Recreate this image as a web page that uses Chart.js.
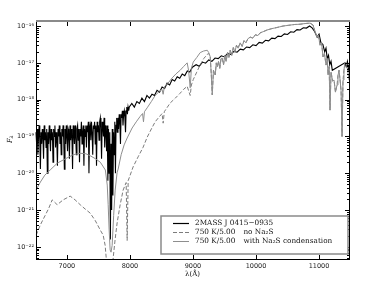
<!DOCTYPE html>
<html><head><meta charset="utf-8">
<script src="https://cdn.jsdelivr.net/npm/chart.js@4.4.1/dist/chart.umd.min.js"></script>
<style>html,body{margin:0;padding:0;background:#fff;overflow:hidden}canvas{display:block}</style>
</head><body>
<canvas id="c" width="378" height="281"></canvas>
<script>
// ---------- data (wavelength in Angstrom, flux F_lambda) ----------
const obsWave = [6510,6520,6530,6540,6550,6560,6570,6580,6590,6600,6610,6620,6630,6640,6650,6660,6670,6680,6690,6700,6710,6720,6730,6740,6750,6760,6770,6780,6790,6800,6810,6820,6830,6840,6850,6860,6870,6880,6890,6900,6910,6920,6930,6940,6950,6960,6970,6980,6990,7000,7010,7020,7030,7040,7050,7060,7070,7080,7090,7100,7110,7120,7130,7140,7150,7160,7170,7180,7190,7200,7210,7220,7230,7240,7250,7260,7270,7280,7290,7300,7310,7320,7330,7340,7350,7360,7370,7380,7390,7400,7410,7420,7430,7440,7450,7460,7470,7480,7490,7500,7510,7520,7530,7540,7550,7560,7570,7580,7590,7600,
7610,7620,7630,7640,7650,7660,7670,7680,7690,7700,7710,7720,7730,7740,7750,7760,7770,7780,7790,7800,
7810,7820,7830,7840,7850,7860,7870,7880,7890,7900,7910,7920,7930,7940,7950,7960,7970,7980,7990,
8030,8070,8110,8150,8190,8230,8270,8310,8350,8390,8430,8470,8510,8550,8590,8630,8670,8710,8750,8790,8830,8870,8910,8950,8990,
9050,9100,9150,9200,9250,9300,9350,9400,9450,9500,9550,9600,9650,9700,9750,9800,9850,9900,9950,10000,10050,10100,10150,10200,10250,10300,10350,10400,10450,10500,10550,10600,10650,10700,10750,10800,10850,
10890,10930,10970,11000,11030,11060,11090,11110,11130,11150,11170,11190,11210,11410,11430,11450,11475];
const obsFlux = [1.3e-19,6.3e-20,1.6e-19,3.2e-20,1.0e-19,2.0e-19,7.9e-20,1.3e-20,1.3e-19,6.3e-20,
1.6e-19,1.0e-19,2.5e-20,2.0e-19,7.9e-20,1.3e-19,5.0e-20,1.6e-19,1.0e-20,1.3e-19,
6.3e-20,2.0e-19,1.0e-19,4.0e-20,1.6e-19,7.9e-20,1.3e-19,2.0e-20,1.6e-19,1.0e-19,
2.0e-19,5.0e-20,1.3e-19,7.9e-20,1.6e-20,1.6e-19,1.0e-19,2.0e-19,6.3e-20,1.3e-19,
3.2e-20,1.6e-19,1.0e-19,2.0e-19,7.9e-20,1.3e-20,1.6e-19,6.3e-20,2.0e-19,1.0e-19,
4.0e-20,1.6e-19,1.3e-19,2.5e-20,2.0e-19,7.9e-20,1.6e-19,1.0e-19,1.3e-20,2.0e-19,
1.3e-19,6.3e-20,2.0e-19,1.0e-19,3.2e-20,1.6e-19,2.0e-19,7.9e-20,1.6e-19,2.0e-20,
1.6e-19,1.0e-19,2.5e-19,6.3e-20,1.3e-19,2.0e-19,1.6e-20,1.6e-19,1.0e-19,2.0e-19,
5.0e-20,2.0e-19,1.3e-19,2.5e-19,1.0e-20,1.6e-19,2.0e-19,7.9e-20,2.5e-19,1.3e-19,
3.2e-20,2.0e-19,1.6e-19,2.5e-19,6.3e-20,2.0e-19,1.6e-20,2.5e-19,1.3e-19,2.0e-19,
7.9e-20,2.5e-19,3.2e-19,1.6e-19,2.5e-20,2.5e-19,2.0e-19,1.0e-19,3.2e-19,5.0e-20,
2.0e-19,1.3e-19,4.0e-20,2.0e-19,6.3e-21,1.6e-19,1.0e-20,1.3e-19,1.6e-22,6.3e-20,1.0e-21,1.6e-19,2.5e-21,1.3e-19,3.2e-20,2.5e-19,1.0e-20,2.0e-19,3.2e-19,1.3e-19,
3.2e-19,1.6e-19,4.0e-19,2.5e-19,6.3e-20,4.0e-19,3.2e-19,5.0e-19,2.0e-19,4.0e-19,5.0e-19,3.2e-19,1.3e-19,5.0e-19,6.3e-19,4.0e-19,6.3e-19,5.0e-19,6.3e-19,
7.9e-19,6.3e-19,8.9e-19,7.9e-19,1.1e-18,8.9e-19,1.3e-18,1.1e-18,1.4e-18,1.3e-18,1.8e-18,1.6e-18,2.2e-18,2.0e-18,2.8e-18,2.5e-18,3.5e-18,3.2e-18,4.2e-18,3.8e-18,5.0e-18,4.5e-18,6.0e-18,5.6e-18,7.6e-18,
8.9e-18,8.1e-18,1.05e-17,9.8e-18,1.2e-17,1.1e-17,1.35e-17,1.3e-17,1.55e-17,1.45e-17,1.8e-17,1.7e-17,2.05e-17,1.95e-17,2.35e-17,2.25e-17,2.7e-17,2.6e-17,3.1e-17,2.95e-17,3.6e-17,3.45e-17,4.1e-17,3.95e-17,4.7e-17,4.55e-17,5.3e-17,5.2e-17,6.1e-17,5.9e-17,7.0e-17,6.8e-17,8.0e-17,7.8e-17,9.0e-17,8.8e-17,1.0e-16,
8.9e-17,7.1e-17,5.0e-17,6.0e-17,3.5e-17,3.2e-17,2.0e-17,2.5e-17,1.3e-17,1.6e-17,8.9e-18,1.1e-17,6.3e-18,1.0e-17,7.9e-18,1.1e-17,5.6e-18];

const noNa2sWave = [6513,6580,6656,6710,6767,6846,6941,7052,7130,7211,7290,7369,7450,7528,7575,7607,7623,7645,7715,7734,7765,7797,7845,7892,7940,7956,7972,8051,8130,8209,8273,8340,8400,8470,8510,8527,8545,8638,8720,8797,8850,8908,8956,8975,9004,9060,9115,9170,9226,9250,9274,9290,9306,
9325,9353,9370,9385,9405,9425,9445,9464,9485,9505,9525,9550,9570,9591,9615,9640,9665,9690,9715,9749,9780,9810,9840,9870,9908,9950,9990,10030,10064,10120,10175,10250,10330,10429,10520,10610,10698,10780,10857,10904,10935,10968,10990,11016,11040,11063,11085,11111,11130,11143,11160,11174,11190,11215,11238,11260,11285,11300,11317,11335,11349,11365,11380,11395,11412,11444,11475];
const noNa2sFlux = [2.1e-22,4.0e-22,7.2e-22,1.1e-21,1.9e-21,1.4e-21,1.9e-21,2.4e-21,1.9e-21,1.4e-21,1.07e-21,8.3e-22,5.2e-22,2.9e-22,2.1e-22,1.1e-22,5.2e-23,1.3e-23,1.3e-23,5.0e-23,1.6e-22,4.5e-22,1.4e-21,3.5e-21,5.6e-21,1.5e-22,6.3e-21,1.5e-20,2.8e-20,5.1e-20,9.5e-20,1.6e-19,2.5e-19,3.5e-19,4.2e-19,2.3e-19,4.7e-19,8.1e-19,1.1e-18,1.5e-18,1.9e-18,2.3e-18,1.3e-18,2.5e-18,3.5e-18,5.6e-18,8.9e-18,1.3e-17,1.7e-17,1.8e-17,1.45e-17,5.0e-18,1.35e-18,
6.3e-18,4.7e-18,1.0e-17,7.8e-18,1.1e-17,7.1e-18,1.3e-17,1.35e-17,8.9e-18,1.6e-17,1.1e-17,1.9e-17,1.4e-17,2.2e-17,1.6e-17,2.6e-17,2.0e-17,3.0e-17,2.5e-17,3.5e-17,2.8e-17,4.0e-17,3.5e-17,4.5e-17,5.0e-17,4.7e-17,5.8e-17,5.5e-17,6.5e-17,7.1e-17,7.8e-17,8.5e-17,9.1e-17,1.0e-16,1.05e-16,1.1e-16,1.12e-16,1.17e-16,1.2e-16,1.07e-16,7.1e-17,5.0e-17,5.6e-17,3.0e-17,3.5e-17,1.45e-17,1.8e-17,8.7e-18,1.3e-17,4.7e-18,7.9e-18,5.2e-19,5.6e-18,3.2e-18,3.4e-18,1.6e-18,2.5e-18,4.5e-18,6.3e-18,3.2e-18,1.8e-18,1.0e-19,3.4e-18,6.3e-18,1.05e-17,8.7e-18,3.4e-18];

const na2sWave = [6510,6580,6650,6735,6850,7000,7100,7210,7300,7370,7450,7530,7610,7640,7655,7670,7686,7700,7718,7742,7766,7797,7813,7861,7908,7956,8035,8100,8162,8200,8215,8230,8273,8340,8400,8470,8510,8527,8545,8600,8670,8730,8797,8850,8908,8930,8956,8975,9004,9060,9115,9170,9226,9250,9274,9290,9306,
9325,9353,9370,9385,9405,9425,9445,9464,9485,9505,9525,9550,9570,9591,9615,9640,9665,9690,9715,9749,9780,9810,9840,9870,9908,9950,9990,10030,10064,10120,10175,10250,10330,10429,10520,10610,10698,10780,10857,10904,10935,10968,10990,11016,11040,11063,11085,11111,11130,11143,11160,11174,11190,11215,11238,11260,11285,11300,11317,11335,11349,11365,11380,11395,11412,11444,11475];
const na2sFlux = [3.5e-21,5.8e-21,8.9e-21,1.23e-20,1.9e-20,2.6e-20,3.2e-20,3.5e-20,3.4e-20,3.0e-20,2.5e-20,2.0e-20,1.23e-20,4.8e-21,1.4e-21,2.9e-22,8.3e-23,7.2e-23,1.1e-22,7.2e-22,3.5e-21,1.07e-20,1.3e-20,3.2e-20,5.9e-20,9.1e-20,1.7e-19,2.5e-19,3.5e-19,4.2e-19,2.5e-19,4.7e-19,6.0e-19,8.9e-19,1.3e-18,1.7e-18,1.9e-18,1.4e-18,2.2e-18,2.75e-18,3.9e-18,5.0e-18,6.3e-18,7.9e-18,1.0e-17,6.3e-18,2.1e-18,7.1e-18,1.05e-17,1.4e-17,1.9e-17,2.1e-17,2.2e-17,1.9e-17,1.45e-17,5.0e-18,1.35e-18,
6.3e-18,4.7e-18,1.0e-17,7.8e-18,1.1e-17,7.1e-18,1.3e-17,1.35e-17,8.9e-18,1.6e-17,1.1e-17,1.9e-17,1.4e-17,2.2e-17,1.6e-17,2.6e-17,2.0e-17,3.0e-17,2.5e-17,3.5e-17,2.8e-17,4.0e-17,3.5e-17,4.5e-17,5.0e-17,4.7e-17,5.8e-17,5.5e-17,6.5e-17,7.1e-17,7.8e-17,8.5e-17,9.1e-17,1.0e-16,1.05e-16,1.1e-16,1.12e-16,1.17e-16,1.2e-16,1.07e-16,7.1e-17,5.0e-17,5.6e-17,3.0e-17,3.5e-17,1.45e-17,1.8e-17,8.7e-18,1.3e-17,4.7e-18,7.9e-18,5.2e-19,5.6e-18,3.2e-18,3.4e-18,1.6e-18,2.5e-18,4.5e-18,6.3e-18,3.2e-18,1.8e-18,1.0e-19,3.4e-18,6.3e-18,1.05e-17,8.7e-18,3.4e-18];

const xTickValues = [7000, 8000, 9000, 10000, 11000];
const xTickLabels = ['7000', '8000', '9000', '10000', '11000'];
const yTickValues = [1e-22, 1e-21, 1e-20, 1e-19, 1e-18, 1e-17, 1e-16];
const yTickLabels = ['10⁻²²', '10⁻²¹', '10⁻²⁰', '10⁻¹⁹', '10⁻¹⁸', '10⁻¹⁷', '10⁻¹⁶'];
const seriesNames = ['2MASS J 0415−0935', '750 K/5.00', '750 K/5.00'];
const seriesNotes = ['', 'no Na₂S', 'with Na₂S condensation'];
const xLabel = 'λ(Å)';

// ---------- chart ----------
const pts = (w, f) => w.map((v, i) => ({x: v, y: f[i]}));
const COL_OBS = '#000000', COL_NO = '#7c7c7c', COL_NA = '#8e8e8e';
const TICK_FONT = {family: 'DejaVu Sans', size: 6.5};
const LEG_FONT = '7.3px "DejaVu Serif"';

const overlay = {
  id: 'overlay',
  afterDatasetsDraw(chart) {
    const {ctx, chartArea: a, scales: {x, y}} = chart;
    ctx.save();
    // frame
    ctx.fillStyle = '#000';
    ctx.fillRect(a.left, a.top, 1, a.bottom - a.top + 1);
    ctx.fillRect(a.right, a.top, 1, a.bottom - a.top + 1);
    ctx.fillRect(a.left, a.bottom, a.right - a.left + 1, 1);
    ctx.fillStyle = '#8a8a8a';
    ctx.fillRect(a.left, a.top - 1, a.right - a.left + 1, 2);
    // ticks (inward)
    ctx.fillStyle = '#000';
    xTickValues.forEach(v => {
      const px = Math.round(x.getPixelForValue(v));
      ctx.fillRect(px, a.bottom - 4, 1, 4);
      ctx.fillRect(px, a.top + 1, 1, 4);
    });
    for (let e = -23; e <= -16; e++) {
      for (let k = 1; k <= 9; k++) {
        const v = k * Math.pow(10, e);
        if (v < y.min || v > y.max) continue;
        const py = Math.round(y.getPixelForValue(v));
        const len = k === 1 ? 4 : 2;
        ctx.fillRect(a.left + 1, py, len, 1);
        ctx.fillRect(a.right - len, py, len, 1);
      }
    }
    // axis titles
    ctx.fillStyle = '#111';
    ctx.font = '7px "DejaVu Serif"';
    ctx.textAlign = 'center';
    ctx.textBaseline = 'middle';
    ctx.fillText(xLabel, (a.left + a.right) / 2, 274);
    ctx.save();
    ctx.translate(10, 140);
    ctx.rotate(-Math.PI / 2);
    ctx.font = 'italic 7px "DejaVu Serif"';
    ctx.textAlign = 'left';
    ctx.fillText('F', -3, 0);
    ctx.font = 'italic 5px "DejaVu Serif"';
    ctx.fillText('λ', 1.5, 2);
    ctx.restore();
    // legend
    const L = 161, T = 216, W = 187, H = 38;
    ctx.fillStyle = '#fff';
    ctx.fillRect(L, T, W, H);
    ctx.strokeStyle = '#8a8a8a';
    ctx.lineWidth = 1.5;
    ctx.strokeRect(L, T, W, H);
    const rows = [223.5, 232.5, 241.5];
    const styles = [[COL_OBS, [], 1.2], [COL_NO, [4, 2], 1], [COL_NA, [], 1]];
    rows.forEach((ry, i) => {
      ctx.strokeStyle = styles[i][0];
      ctx.lineWidth = styles[i][2];
      ctx.setLineDash(styles[i][1]);
      ctx.beginPath();
      ctx.moveTo(173, ry);
      ctx.lineTo(189, ry);
      ctx.stroke();
      ctx.setLineDash([]);
      ctx.fillStyle = '#111';
      ctx.font = LEG_FONT;
      ctx.textAlign = 'left';
      ctx.textBaseline = 'middle';
      ctx.fillText(seriesNames[i], 195, ry);
      if (seriesNotes[i]) {
        const w = ctx.measureText(seriesNames[i]).width;
        ctx.fillText(seriesNotes[i], 195 + w + 8, ry);
      }
    });
    ctx.restore();
  }
};

new Chart(document.getElementById('c'), {
  type: 'line',
  data: {
    datasets: [
      {label: seriesNames[0], data: pts(obsWave, obsFlux), borderColor: COL_OBS, borderWidth: 1.1, order: 3},
      {label: seriesNames[1] + ' ' + seriesNotes[1], data: pts(noNa2sWave, noNa2sFlux), borderColor: COL_NO, borderWidth: 1, borderDash: [4, 2], order: 2},
      {label: seriesNames[2] + ' ' + seriesNotes[2], data: pts(na2sWave, na2sFlux), borderColor: COL_NA, borderWidth: 1, order: 1}
    ]
  },
  options: {
    responsive: false,
    animation: false,
    devicePixelRatio: 1,
    events: [],
    layout: {padding: {left: 0, top: 21, right: 29, bottom: 0}},
    elements: {point: {radius: 0}, line: {tension: 0, fill: false}},
    datasets: {line: {clip: 1}},
    plugins: {legend: {display: false}, tooltip: {enabled: false}},
    scales: {
      x: {
        type: 'linear', min: 6510, max: 11475,
        afterBuildTicks: s => { s.ticks = xTickValues.map(v => ({value: v})); },
        afterFit: s => { s.height = 22; },
        grid: {display: false, drawTicks: false}, border: {display: false},
        ticks: {font: TICK_FONT, color: '#222', padding: 3, maxRotation: 0, autoSkip: false,
          callback: (v, i) => xTickLabels[i]}
      },
      y: {
        type: 'logarithmic', min: 4.7e-23, max: 1.37e-16,
        afterBuildTicks: s => { s.ticks = yTickValues.map(v => ({value: v})); },
        afterFit: s => { s.width = 36; },
        grid: {display: false, drawTicks: false}, border: {display: false},
        ticks: {font: TICK_FONT, color: '#222', padding: 2, autoSkip: false,
          callback: (v, i) => yTickLabels[i]}
      }
    }
  },
  plugins: [overlay]
});
</script>
</body></html>
